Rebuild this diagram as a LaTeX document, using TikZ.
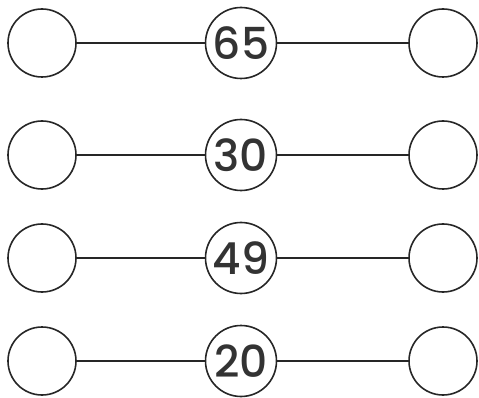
\documentclass[tikz,border=0pt]{standalone}
\usepackage{fontspec}
\setmainfont{Poppins}[BoldFont={Poppins Medium}]
\begin{document}
\begin{tikzpicture}[x=1pt,y=-1pt,
  ring/.style={circle,draw=black!85,line width=1.6pt,minimum size=68pt,inner sep=0pt},
  numring/.style={circle,draw=black!85,line width=1.6pt,minimum size=71pt,inner sep=0pt,
    font=\fontsize{44}{44}\selectfont\bfseries,text=black!80},
  link/.style={draw=black!85,line width=1.6pt}]
\useasboundingbox (0,0) rectangle (479,398);
\foreach \i/\y/\n in {1/43/65,2/155/30,3/258/49,4/361/20}{
  \node[ring] (l\i) at (42,\y) {};
  \node[numring] (m\i) at (241,\y) {\n};
  \node[ring] (r\i) at (443,\y) {};
  \draw[link] (l\i) -- (m\i);
  \draw[link] (m\i) -- (r\i);
}
\end{tikzpicture}
\end{document}
